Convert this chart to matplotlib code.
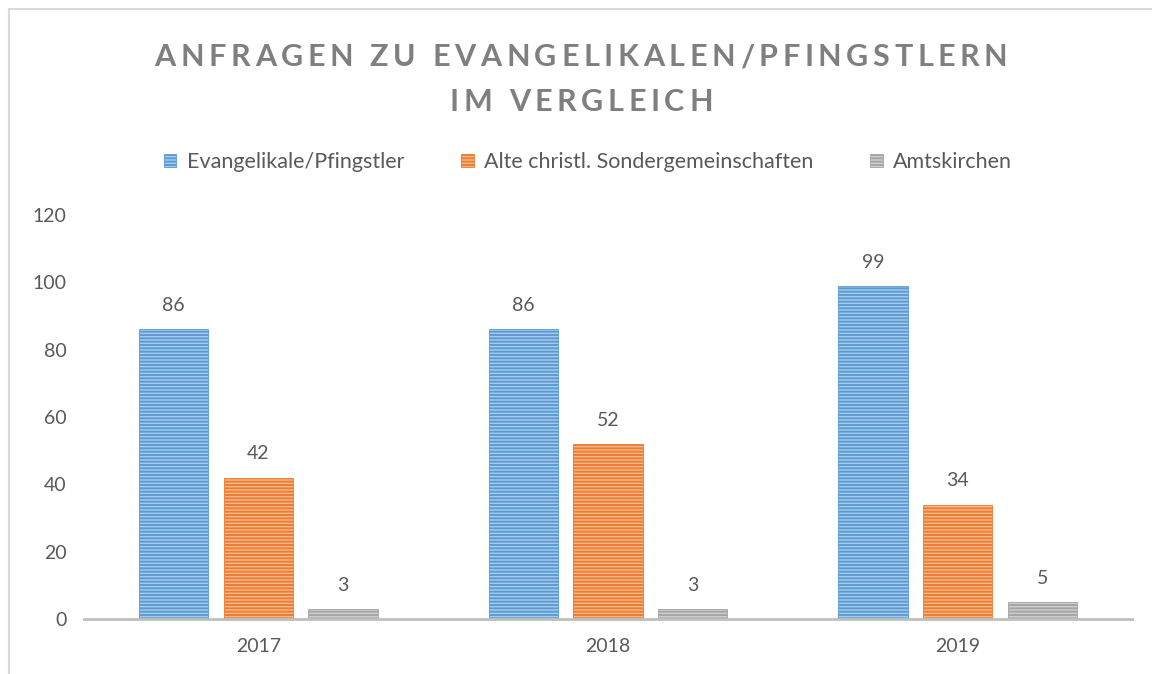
import numpy as np
import matplotlib
matplotlib.use("Agg")
from matplotlib import pyplot as plt
from matplotlib.font_manager import FontProperties
from matplotlib.textpath import TextToPath
from matplotlib.transforms import IdentityTransform
from matplotlib.patches import Rectangle

years = ["2017", "2018", "2019"]
series = ["Evangelikale/Pfingstler", "Alte christl. Sondergemeinschaften", "Amtskirchen"]
evangelikale = [86, 86, 99]
sondergemeinschaften = [42, 52, 34]
amtskirchen = [3, 3, 5]
values = [evangelikale, sondergemeinschaften, amtskirchen]
title_lines = ["ANFRAGEN ZU EVANGELIKALEN/PFINGSTLERN", "IM VERGLEICH"]

faces = ["#a9cbea", "#f6b98e", "#cfcfcf"]
stripes = ["#5b9bd5", "#ed7d31", "#a5a5a5"]
text_grey = "#595959"
font = "Lato"

plt.rcParams["font.family"] = [font, "DejaVu Sans"]
plt.rcParams["hatch.linewidth"] = 1.4

W, H = 1152, 674
fig = plt.figure(figsize=(W / 100, H / 100), dpi=100)
ax = fig.add_axes([83.5 / W, 1 - 619 / H, (1132.5 - 83.5) / W, (619 - 215) / H])

x = np.arange(len(years))
width = 0.198
offsets = [-0.242, 0.0, 0.242]
for i in range(3):
    bars = ax.bar(x + offsets[i], values[i], width, color=faces[i],
                  edgecolor=stripes[i], linewidth=0.6, hatch="-----",
                  label=series[i])
    for b in bars:
        b._hatch_color = matplotlib.colors.to_rgba(stripes[i])
    for xi, v in zip(x + offsets[i], values[i]):
        ax.text(xi, v + 4.5, str(v), ha="center", va="bottom",
                fontsize=14, color=text_grey)

ax.set_xlim(-0.5, 2.5)
ax.set_ylim(0, 120)
ax.set_yticks(range(0, 121, 20))
ax.set_xticks(x)
ax.set_xticklabels(years)
for s in ["top", "right", "left"]:
    ax.spines[s].set_visible(False)
ax.spines["bottom"].set_color("#bfbfbf")
ax.spines["bottom"].set_linewidth(2)
ax.tick_params(axis="both", length=0, labelsize=14, colors=text_grey, pad=12)
ax.tick_params(axis="x", pad=14)
ax.patch.set_alpha(0)

# legend
leg = fig.legend(loc="center", bbox_to_anchor=(588 / W, 1 - 162 / H), ncol=3,
                 frameon=False, fontsize=15.5, handlelength=0.6,
                 handleheight=0.6, handletextpad=0.5, columnspacing=2.6)
for t in leg.get_texts():
    t.set_color(text_grey)

# title with letter spacing
fp = FontProperties(family=font, weight="bold", size=22)
ttp = TextToPath()
px = 100 / 72


def text_w(s):
    w, h, d = ttp.get_text_width_height_descent(s, fp, ismath=False)
    return w * px


target = 1008 - 155
n0 = len(title_lines[0])
spacing = (target - text_w(title_lines[0])) / (n0 - 1)
baselines = [H - 66, H - 111]
cx = 581
for line, yb in zip(title_lines, baselines):
    total = text_w(line) + spacing * (len(line) - 1)
    x0 = cx - total / 2
    for k, ch in enumerate(line):
        xk = x0 + text_w(line[:k]) + spacing * k
        fig.text(xk, yb, ch, transform=IdentityTransform(), fontproperties=fp,
                 color="#7f7f7f", ha="left", va="baseline")

# outer frame
fig.patches.append(Rectangle((8.5 / W, -0.1), 1.2, 1 - 9 / H + 0.1,
                             transform=fig.transFigure, fill=False,
                             edgecolor="#d9d9d9", linewidth=1.5))

fig.savefig("out.png", dpi=100)
